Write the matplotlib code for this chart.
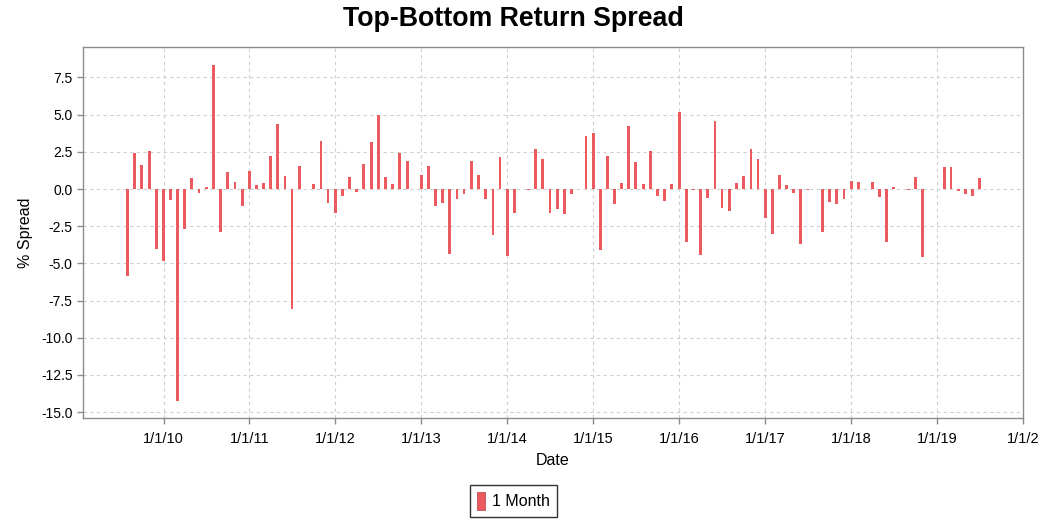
"""
Top-bottom return spread, monthly bars
"""

import matplotlib
matplotlib.use('Agg')
import matplotlib.pyplot as plt
from matplotlib.patches import Rectangle
import pandas as pd

# monthly spread (%), Aug 2009 .. Jul 2019
start_month = '2009-08-01'
spread = [
    -5.85, 2.45, 1.62, 2.55, -4.05,                                      # 2009 Aug-Dec
    -4.85, -0.75, -14.25, -2.72, 0.72, -0.28, 0.12, 8.37, -2.92, 1.12, 0.50, -1.15,   # 2010
    1.20, 0.28, 0.38, 2.25, 4.40, 0.85, -8.07, 1.52, 0.0, 0.32, 3.20, -0.93,          # 2011
    -1.62, -0.47, 0.80, -0.22, 1.67, 3.17, 4.98, 0.83, 0.33, 2.39, 1.88, 0.0,         # 2012
    0.96, 1.54, -1.12, -0.96, -4.37, -0.65, -0.33, 1.90, 0.96, -0.69, -3.12, 2.14,    # 2013
    -4.49, -1.63, 0.0, -0.05, 2.66, 1.99, -1.63, -1.36, -1.70, -0.36, 0.0, 3.55,      # 2014
    3.75, -4.13, 2.25, -1.00, 0.42, 4.22, 1.83, 0.31, 2.54, -0.47, -0.80, 0.33,       # 2015
    5.20, -3.55, -0.10, -4.46, -0.58, 4.58, -1.27, -1.45, 0.42, 0.89, 2.68, 2.03,     # 2016
    -1.92, -3.01, 0.94, 0.25, -0.27, -3.68, -0.09, -0.03, -2.92, -0.87, -0.98, -0.69, # 2017
    0.51, 0.45, 0.0, 0.47, -0.54, -3.57, 0.13, -0.03, -0.10, 0.83, -4.60, 0.0,        # 2018
    0.0, 1.50, 1.48, -0.13, -0.33, -0.45, 0.74,                                       # 2019 Jan-Jul
]
series_label = '1 Month'
y_ticks = [-15.0, -12.5, -10.0, -7.5, -5.0, -2.5, 0.0, 2.5, 5.0, 7.5]
x_tick_years = list(range(2010, 2021))
x_tick_labels = ['1/1/10', '1/1/11', '1/1/12', '1/1/13', '1/1/14', '1/1/15',
                 '1/1/16', '1/1/17', '1/1/18', '1/1/19', '1/1/2']

BAR_COLOR = '#ea5a5e'
FRAME = '#8c8c8c'

plt.rcParams['font.family'] = ['Liberation Sans', 'DejaVu Sans']

dates = pd.date_range(start_month, periods=len(spread), freq='MS')

fig = plt.figure(figsize=(10.55, 5.31), dpi=100)
ax = fig.add_axes([0.0787, 0.2128, 0.891, 0.6987])

ax.bar(dates, spread, width=12, color=BAR_COLOR, align='center', zorder=3)

ax.set_xlim(pd.Timestamp('2009-01-24'), pd.Timestamp('2020-01-01'))
ax.set_ylim(-15.4, 9.55)

ax.set_yticks(y_ticks)
ax.set_yticklabels([f'{v:.1f}' for v in y_ticks])
ax.set_xticks([pd.Timestamp(f'{y}-01-01') for y in x_tick_years])
ax.set_xticklabels(x_tick_labels)

ax.grid(True, color='#cfcfcf', linestyle=(0, (3, 3)), linewidth=0.8, zorder=0)
for s in ax.spines.values():
    s.set_color(FRAME)
    s.set_linewidth(1.0)
ax.tick_params(axis='both', color=FRAME, length=4, width=1)
ax.tick_params(axis='y', labelsize=10, pad=3.5)
ax.tick_params(axis='x', labelsize=10.5, pad=6)

fig.text(0.487, 0.965, 'Top-Bottom Return Spread', fontsize=19.3,
         fontweight='bold', ha='center', va='center')
ax.set_xlabel('Date', fontsize=11.5, labelpad=5)
ax.set_ylabel('% Spread', fontsize=11.5, labelpad=6)

handle = Rectangle((0, 0), 1, 1, facecolor=BAR_COLOR, edgecolor='#b04040', linewidth=0.5)
leg = fig.legend([handle], [series_label], loc='center', bbox_to_anchor=(0.4865, 0.0565),
                 frameon=True, fancybox=False, fontsize=11.5, handlelength=0.5,
                 handleheight=1.3, handletextpad=0.4, borderpad=0.45)
leg.get_frame().set_edgecolor('black')
leg.get_frame().set_linewidth(1.0)

fig.savefig('out.png', dpi=100)
